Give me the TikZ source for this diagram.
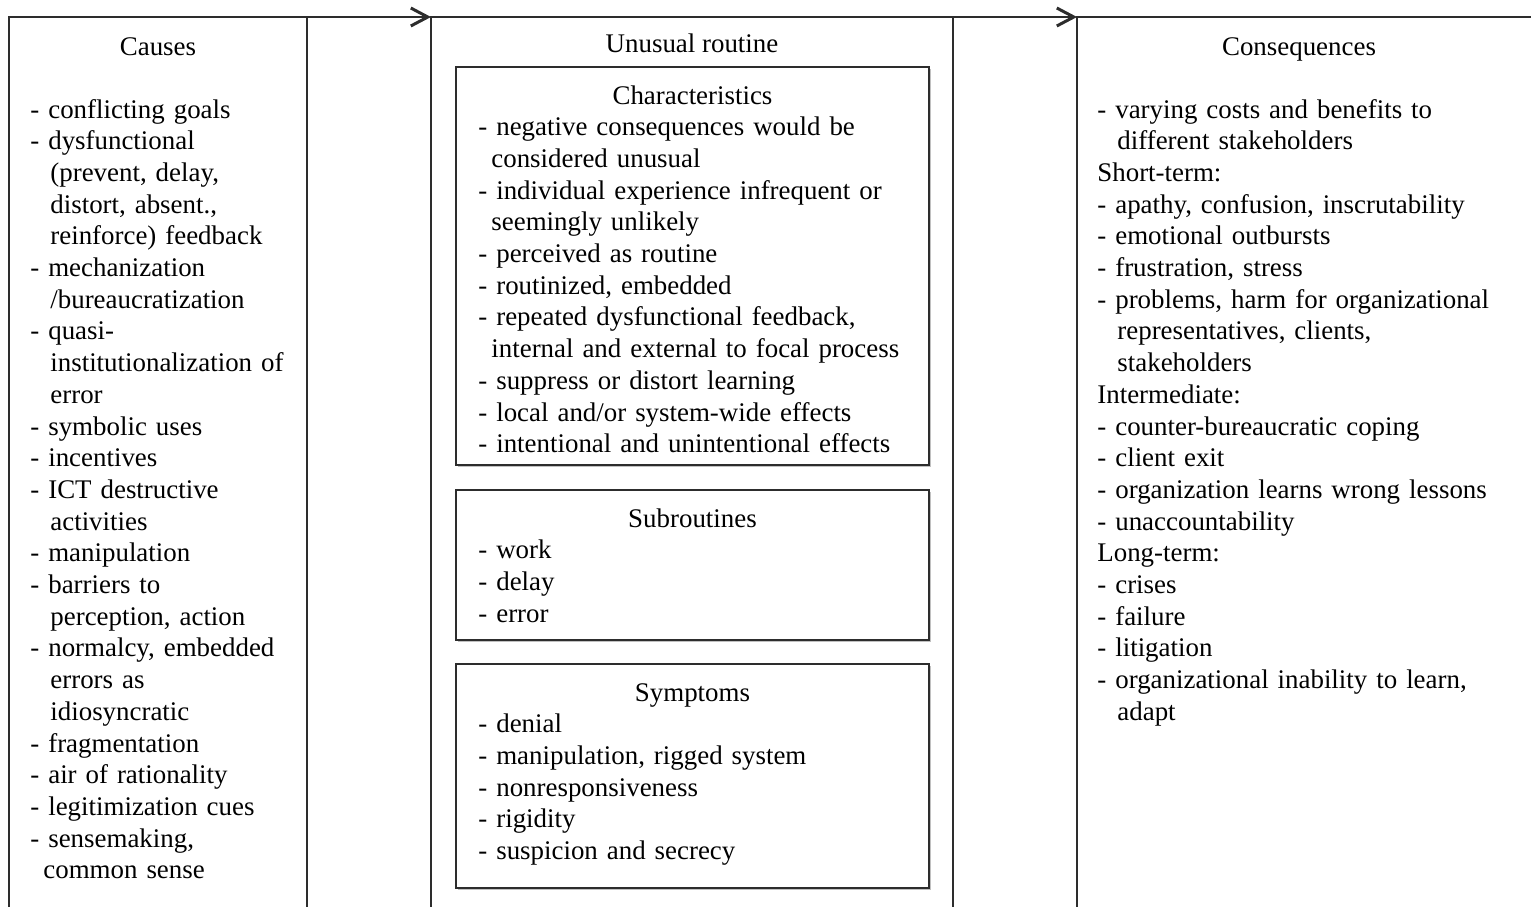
\documentclass[tikz,border=0pt]{standalone}
\usepackage{fontspec}
\setmainfont{Liberation Serif}
\usepackage{tikz}
\usetikzlibrary{arrows.meta,positioning,shadows}
\newcommand{\rtfont}{\fontsize{13.45}{15.85}\selectfont}
\newcommand{\wrapin}{\hspace*{10pt}}
\newcommand{\wrapmid}{\hspace*{6.5pt}}
\definecolor{rtline}{RGB}{45,45,45}
\definecolor{rtshade}{RGB}{150,150,150}
\tikzset{
  rtCol/.style={draw=rtline, line width=1pt, anchor=north west,
                minimum height=470pt, inner sep=0pt, outer sep=0pt},
  rtBox/.style={draw=rtline, line width=1.2pt, fill=white, anchor=north west,
                minimum width=236.5pt, inner sep=0pt, outer sep=0pt,
                drop shadow={shadow xshift=0.8pt, shadow yshift=-0.8pt,
                             fill=rtshade, opacity=0.6}},
  rtHead/.style={inner sep=0pt, anchor=base, font=\rtfont},
  rtList/.style={inner sep=0pt, anchor=base west, align=left, text width=260pt,
                 font=\rtfont},
  rtArrow/.style={-{Straight Barb[length=8.5pt,width=9pt,line width=1.5pt]},
                  line width=1pt, draw=rtline}
}

\begin{document}
\begin{tikzpicture}[x=0.5pt,y=-0.5pt]
  \useasboundingbox (0,0) rectangle (1531,906);

  % three columns
  \node[rtCol, minimum width=149pt] (causes) at (9,17) {};
  \node[rtCol, minimum width=261pt] (routine) at (431,17) {};
  \node[rtCol, minimum width=300pt] (conseq) at (1077,17) {};
  \draw[rtArrow] (causes.north east) -- (routine.north west);
  \draw[rtArrow] (routine.north east) -- (conseq.north west);

  % causes
  \node[rtHead] (causesHd) at ([yshift=-19pt]causes.north) {Causes};
  \node[rtList] (causesLs) at ([xshift=10.5pt,yshift=-50.5pt]causes.north west)
    {- conflicting goals\\
     - dysfunctional\\
     \wrapin(prevent, delay,\\
     \wrapin distort, absent.,\\
     \wrapin reinforce) feedback\\
     - mechanization\\
     \wrapin/bureaucratization\\
     - quasi-\\
     \wrapin institutionalization of\\
     \wrapin error\\
     - symbolic uses\\
     - incentives\\
     - ICT destructive\\
     \wrapin activities\\
     - manipulation\\
     - barriers to\\
     \wrapin perception, action\\
     - normalcy, embedded\\
     \wrapin errors as\\
     \wrapin idiosyncratic\\
     - fragmentation\\
     - air of rationality\\
     - legitimization cues\\
     - sensemaking,\\
     \wrapmid common sense};

  % unusual routine
  \node[rtHead] (routineHd) at ([yshift=-17.5pt]routine.north) {Unusual routine};
  \node[rtBox, minimum height=199pt] (chars) at (456,67) {};
  \node[rtBox, minimum height=75pt, below=12.5pt of chars] (subr) {};
  \node[rtBox, minimum height=112pt, below=12pt of subr] (sympt) {};

  \node[rtHead] (charsHd) at ([yshift=-18.5pt]chars.north) {Characteristics};
  \node[rtList] (charsLs) at ([xshift=11pt,yshift=-34.35pt]chars.north west)
    {- negative consequences would be\\
     \wrapmid considered unusual\\
     - individual experience infrequent or\\
     \wrapmid seemingly unlikely\\
     - perceived as routine\\
     - routinized, embedded\\
     - repeated dysfunctional feedback,\\
     \wrapmid internal and external to focal process\\
     - suppress or distort learning\\
     - local and/or system-wide effects\\
     - intentional and unintentional effects};

  \node[rtHead] (subrHd) at ([yshift=-18.5pt]subr.north) {Subroutines};
  \node[rtList] (subrLs) at ([xshift=11pt,yshift=-34.35pt]subr.north west)
    {- work\\
     - delay\\
     - error};

  \node[rtHead] (symptHd) at ([yshift=-18.5pt]sympt.north) {Symptoms};
  \node[rtList] (symptLs) at ([xshift=11pt,yshift=-34.35pt]sympt.north west)
    {- denial\\
     - manipulation, rigged system\\
     - nonresponsiveness\\
     - rigidity\\
     - suspicion and secrecy};

  % consequences
  \node[rtHead] (conseqHd) at ([xshift=111pt,yshift=-19pt]conseq.north west) {Consequences};
  \node[rtList] (conseqLs) at ([xshift=10pt,yshift=-50.5pt]conseq.north west)
    {- varying costs and benefits to\\
     \wrapin different stakeholders\\
     Short-term:\\
     - apathy, confusion, inscrutability\\
     - emotional outbursts\\
     - frustration, stress\\
     - problems, harm for organizational\\
     \wrapin representatives, clients,\\
     \wrapin stakeholders\\
     Intermediate:\\
     - counter-bureaucratic coping\\
     - client exit\\
     - organization learns wrong lessons\\
     - unaccountability\\
     Long-term:\\
     - crises\\
     - failure\\
     - litigation\\
     - organizational inability to learn,\\
     \wrapin adapt};
\end{tikzpicture}
\end{document}
